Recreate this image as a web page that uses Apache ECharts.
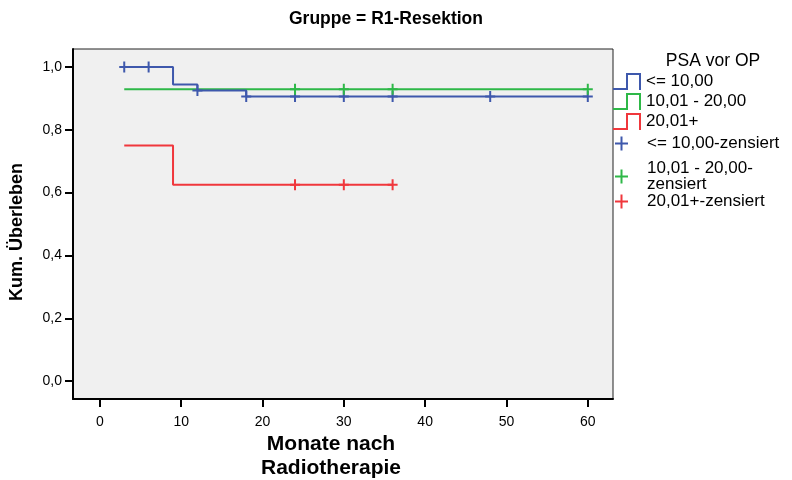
<!DOCTYPE html>
<html>
<head>
<meta charset="utf-8">
<script src="https://cdn.jsdelivr.net/npm/echarts@6/dist/echarts.min.js"></script>
<style>
  html, body { margin: 0; padding: 0; background: #fff; }
  #chart { width: 792px; height: 480px; }
</style>
</head>
<body>
<div id="chart"></div>
<script>
// Kaplan-Meier Daten (Monate, kum. Überleben)
var blueTimes = [3, 9, 12, 18, 60];
var blueSurv = [1.0, 0.944, 0.925, 0.906, 0.906];
var greenTimes = [3, 60];
var greenSurv = [0.929, 0.929];
var redTimes = [3, 9, 36];
var redSurv = [0.75, 0.625, 0.625];

// zensierte Fälle
var blueCensT = [3, 6, 12, 18, 24, 30, 36, 48, 60];
var blueCensS = [1.0, 1.0, 0.925, 0.906, 0.906, 0.906, 0.906, 0.906, 0.906];
var greenCensT = [24, 30, 36, 60];
var greenCensS = [0.929, 0.929, 0.929, 0.929];
var redCensT = [24, 30, 36];
var redCensS = [0.625, 0.625, 0.625];

var xTicks = [0, 10, 20, 30, 40, 50, 60];
var yTicks = [0, 0.2, 0.4, 0.6, 0.8, 1.0];

var groupNames = ["<= 10,00", "10,01 - 20,00", "20,01+"];
var censNames = ["<= 10,00-zensiert", "10,01 - 20,00-\nzensiert", "20,01+-zensiert"];
var colors = ["#3e58ac", "#2eb848", "#f0373c"];

function pairs(t, s) {
  return t.map(function (v, i) { return [v, s[i]]; });
}

var font = "'Liberation Sans', Arial, sans-serif";
var stepIcon = "path://M0,15H13V0H28V17H26V2H15V17H0Z";
var plusIcon = "path://M5.5,0H7.5V14H5.5Z M0,6H13V8H0Z";
var censSymbol = "path://M4,0H6V11H4Z M0,4.5H10V6.5H0Z";

var lineData = [pairs(blueTimes, blueSurv), pairs(greenTimes, greenSurv), pairs(redTimes, redSurv)];
var censData = [pairs(blueCensT, blueCensS), pairs(greenCensT, greenCensS), pairs(redCensT, redCensS)];

var series = [];
var zLine = [4, 3, 2];
lineData.forEach(function (d, i) {
  series.push({
    name: groupNames[i],
    type: "line",
    step: "end",
    data: d,
    showSymbol: false,
    z: zLine[i],
    itemStyle: { color: colors[i] },
    lineStyle: { color: colors[i], width: 2 }
  });
});
censData.forEach(function (d, i) {
  series.push({
    name: censNames[i],
    type: "scatter",
    data: d,
    symbol: censSymbol,
    symbolSize: [10, 11],
    z: 5,
    itemStyle: { color: colors[i], opacity: 1 }
  });
});

var legendTops = [73, 93, 113, 135, 160, 193];
var legends = [];
groupNames.forEach(function (n, i) {
  legends.push({
    data: [n],
    left: 613,
    top: legendTops[i],
    padding: 0,
    icon: stepIcon,
    itemWidth: 28,
    itemHeight: 17,
    selectedMode: false,
    itemStyle: { borderWidth: 0 },
    textStyle: { fontFamily: font, fontSize: 17, color: "#000", lineHeight: 16 }
  });
});
censNames.forEach(function (n, i) {
  legends.push({
    data: [n],
    left: 615,
    top: legendTops[3 + i],
    padding: 0,
    icon: plusIcon,
    itemWidth: 13,
    itemHeight: 14,
    selectedMode: false,
    itemStyle: { borderWidth: 0, opacity: 1 },
    textStyle: { fontFamily: font, fontSize: 17, color: "#000", lineHeight: 16, padding: [0, 0, 0, 14] }
  });
});

var myChart = echarts.init(document.getElementById("chart"));
myChart.setOption({
  animation: false,
  backgroundColor: "#fff",
  title: [
    {
      text: "Gruppe = R1-Resektion",
      left: 386,
      top: 10,
      padding: 0,
      textAlign: "center",
      textStyle: { fontFamily: font, fontSize: 17.5, fontWeight: "bold", color: "#000" }
    },
    {
      text: "PSA vor OP",
      left: 713,
      top: 52,
      padding: 0,
      textAlign: "center",
      textStyle: { fontFamily: font, fontSize: 17.5, fontWeight: "normal", color: "#000" }
    }
  ],
  legend: legends,
  grid: {
    left: 73,
    right: 179,
    top: 49,
    bottom: 81,
    outerBoundsMode: "none",
    show: true,
    backgroundColor: "#f0f0f0",
    borderColor: "#222",
    borderWidth: 1
  },
  xAxis: {
    type: "value",
    min: -3.3,
    max: 63.1,
    name: "{a|Monate nach}\n{a|Radiotherapie}",
    nameLocation: "middle",
    nameGap: 32,
    nameTextStyle: {
      padding: [0, 24, 0, 0],
      rich: { a: { fontFamily: font, fontSize: 21, fontWeight: "bold", color: "#000", lineHeight: 24 } }
    },
    axisLine: { onZero: false, lineStyle: { color: "#000", width: 2 } },
    axisTick: { customValues: xTicks, length: 8, lineStyle: { color: "#000", width: 2 } },
    axisLabel: { customValues: xTicks, margin: 16, fontFamily: font, fontSize: 14, color: "#000" },
    splitLine: { show: false }
  },
  yAxis: {
    type: "value",
    min: -0.057,
    max: 1.057,
    name: "Kum. Überleben",
    nameLocation: "middle",
    nameGap: 47,
    nameTextStyle: { fontFamily: font, fontSize: 18, fontWeight: "bold", color: "#000", padding: [0, 16, 0, 0] },
    axisLine: { show: true, onZero: false, lineStyle: { color: "#000", width: 2 } },
    axisTick: { show: true, customValues: yTicks, length: 8, lineStyle: { color: "#000", width: 2 } },
    axisLabel: {
      customValues: yTicks,
      margin: 11,
      fontFamily: font,
      fontSize: 14,
      color: "#000",
      formatter: function (v) { return v.toFixed(1).replace(".", ","); }
    },
    splitLine: { show: false }
  },
  series: series
});
</script>
</body>
</html>
